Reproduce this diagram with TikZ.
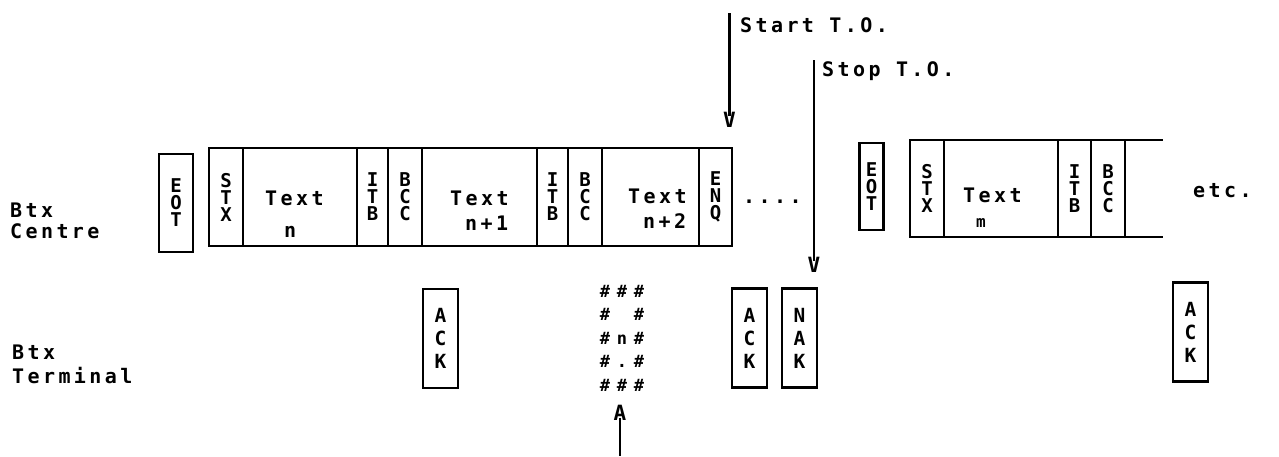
\documentclass[tikz,border=0pt]{standalone}
\usepackage{fontspec}
\newfontfamily\dotfont[LetterSpace=17]{DejaVu Sans Mono Bold}
\newfontfamily\hashfam[LetterSpace=40]{DejaVu Sans Mono Bold}
\newcommand\stackfont{\dotfont\fontsize{19}{17}\selectfont}
\newcommand\ackfont{\dotfont\fontsize{19.5}{23}\selectfont}
\newcommand\lblfont{\dotfont\fontsize{20}{21}\selectfont}
\newcommand\vfont{\dotfont\fontsize{21}{21}\selectfont}
\newcommand\chkfont{\hashfam\fontsize{17}{23.5}\selectfont}
\begin{document}
\begin{tikzpicture}[x=1pt,y=-1pt,
  fr/.style={draw, line width=2.6pt, inner sep=0pt, outer sep=0pt, align=center, font=\stackfont},
  ackbox/.style={draw, line width=2.6pt, inner sep=0pt, outer sep=0pt, align=center, font=\ackfont,
                 minimum width=35pt, minimum height=99pt},
  lbl/.style={inner sep=0pt, anchor=base west, font=\lblfont},
  tol/.style={line width=2.6pt}]
\useasboundingbox (0,0) rectangle (1279,456);

% Row labels
\node[lbl] (btxc1) at (10,217) {Btx};
\node[lbl] (btxc2) at (10,238) {Centre};
\node[lbl] (btxt1) at (12,359) {Btx};
\node[lbl] (btxt2) at (12,383) {Terminal};

% Left message group
\node[fr, minimum width=34pt, minimum height=98pt] (eotA) at (176,203) {E\\O\\T};
\node[fr, minimum width=34pt, minimum height=98pt] (stxA) at (226,197) {S\\T\\X};
\node[fr, minimum width=114pt, minimum height=98pt] (txtA) at (300,197) {};
\node[fr, minimum width=31pt, minimum height=98pt] (itbA) at (372.5,197) {I\\T\\B};
\node[fr, minimum width=34pt, minimum height=98pt] (bccA) at (405,197) {B\\C\\C};
\node[fr, minimum width=115pt, minimum height=98pt] (txtB) at (479.5,197) {};
\node[fr, minimum width=31pt, minimum height=98pt] (itbB) at (552.5,197) {I\\T\\B};
\node[fr, minimum width=34pt, minimum height=98pt] (bccB) at (585,197) {B\\C\\C};
\node[fr, minimum width=97pt, minimum height=98pt] (txtC) at (650.5,197) {};
\node[fr, minimum width=33pt, minimum height=98pt] (enq) at (715.5,197) {E\\N\\Q};

\node[lbl] (tA1) at (265,205) {Text};
\node[lbl] (tA2) at (284,237) {n};
\node[lbl] (tB1) at (450,205) {Text};
\node[lbl] (tB2) at (465,230) {n+1};
\node[lbl] (tC1) at (628,203) {Text};
\node[lbl] (tC2) at (643,228) {n+2};

\node[lbl] (dots) at (743,203) {....};

% Right message group
\node[fr, minimum width=24pt, minimum height=87pt] (eotB) at (871.5,186.5) {E\\O\\T};
\node[fr, minimum width=34pt, minimum height=97pt] (stxB) at (927,188.5) {S\\T\\X};
\node[fr, minimum width=114pt, minimum height=97pt] (txtM) at (1001,188.5) {};
\node[fr, minimum width=33pt, minimum height=97pt] (itbC) at (1074.5,188.5) {I\\T\\B};
\node[fr, minimum width=34pt, minimum height=97pt] (bccC) at (1108,188.5) {B\\C\\C};
\coordinate (openT) at (1163,140);
\coordinate (openB) at (1163,237);
\draw[line width=2.6pt] (bccC.north east) -- (openT);
\draw[line width=2.6pt] (bccC.south east) -- (openB);
\node[lbl] (tM1) at (963,202) {Text};
\node[lbl, font=\dotfont\fontsize{16}{17}\selectfont] (tM2) at (976,227) {m};

\node[lbl] (etc) at (1193,197) {etc.};

% Terminal responses
\node[ackbox] (ack1) at (440.5,338.5) {A\\C\\K};
\node[ackbox] (ack2) at (749.5,338) {A\\C\\K};
\node[ackbox] (nak) at (799.5,338) {N\\A\\K};
\node[ackbox] (ack3) at (1190.5,332) {A\\C\\K};

% Corrupted block marker
\node[inner sep=0pt, align=center, font=\chkfont] (chk) at (622,338)
  {\#\#\#\\\rlap{\#}\phantom{\#\#\#}\llap{\#}\\\#n\#\\\#.\#\\\#\#\#};
\node[inner sep=0pt, font=\vfont] (upA) at (620,413) {A};
\coordinate (upEnd) at (620,456);
\draw[tol] ([yshift=3pt]upA.south) -- (upEnd);

% Time-out markers
\coordinate (startTop) at (729.5,13);
\node[inner sep=0pt, font=\vfont] (startV) at (729.5,120) {V};
\draw[tol] (startTop) -- ([yshift=-4pt]startV.north);
\node[lbl] (startLbl) at (740,32) {Start T.O.};

\coordinate (stopTop) at (814,60);
\node[inner sep=0pt, font=\vfont] (stopV) at (814,265) {V};
\draw[tol] (stopTop) -- ([yshift=-4pt]stopV.north);
\node[lbl] (stopLbl) at (822,76) {Stop T.O.};
\end{tikzpicture}
\end{document}
